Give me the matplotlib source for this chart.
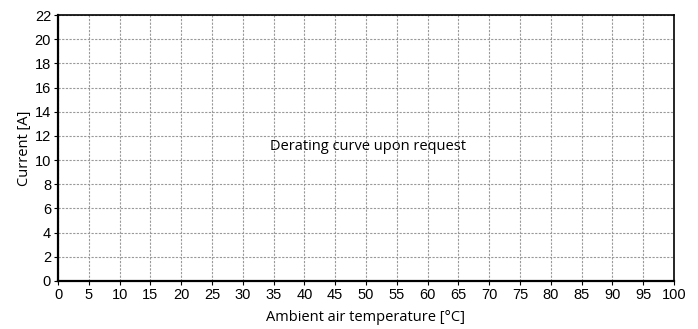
import matplotlib
matplotlib.use("Agg")
import matplotlib.pyplot as plt

# Axis ranges and tick positions
x_ticks = list(range(0, 101, 5))
y_ticks = list(range(0, 23, 2))
note_text = "Derating curve upon request"
note_pos = (50.3, 11.1)

fig = plt.figure(figsize=(6.98, 3.29), dpi=100)
ax = fig.add_axes([0.0831, 0.146, 0.8825, 0.808])

ax.set_xlim(0, 100)
ax.set_ylim(0, 22)
ax.set_xticks(x_ticks)
ax.set_yticks(y_ticks)
ax.tick_params(direction="out", length=3, width=0.8, pad=2, labelsize=10.5)
for lbl in ax.get_xticklabels() + ax.get_yticklabels():
    lbl.set_family("Liberation Sans")

ax.grid(True, color="#999999", linestyle=(0, (2, 1.3)), linewidth=0.8)
ax.set_axisbelow(True)
for side in ["left", "bottom"]:
    ax.spines[side].set_linewidth(1.6)
for side in ["top", "right"]:
    ax.spines[side].set_linewidth(1.2)

ax.set_xlabel("Ambient air temperature [°C]", family="Open Sans", fontsize=10.5, labelpad=6)
ax.set_ylabel("Current [A]", family="Open Sans", fontsize=10.5, labelpad=2)

ax.text(note_pos[0], note_pos[1], note_text, family="Open Sans", fontsize=10.5,
        ha="center", va="center")

fig.savefig("out.png", dpi=100)
